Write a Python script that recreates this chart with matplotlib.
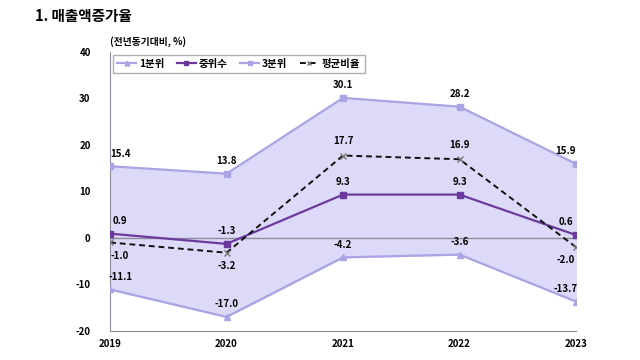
import numpy as np
import matplotlib.pyplot as plt

plt.rcParams['font.family'] = ['Noto Sans CJK KR', 'DejaVu Sans']
plt.rcParams['font.weight'] = 'bold'
plt.rcParams['axes.unicode_minus'] = False

years = ['2019', '2020', '2021', '2022', '2023']
q1 = [-11.1, -17.0, -4.2, -3.6, -13.7]
median = [0.9, -1.3, 9.3, 9.3, 0.6]
q3 = [15.4, 13.8, 30.1, 28.2, 15.9]
avg = [-1.0, -3.2, 17.7, 16.9, -2.0]

x = np.arange(len(years))

fig = plt.figure(figsize=(6.4, 3.6), dpi=100)
ax = fig.add_axes([0.172, 0.081, 0.728, 0.775])

ax.fill_between(x, q1, q3, color='#DCDAF8', zorder=1)
ax.axhline(0, color='#8C8C9C', lw=1, zorder=2)
ax.plot(x, q1, color='#A9A4E4', lw=1.6, marker='^', ms=5, label='1분위', zorder=3)
ax.plot(x, median, color='#6A3B9C', lw=1.6, marker='s', ms=5, label='중위수', zorder=4)
ax.plot(x, q3, color='#A9A4E4', lw=1.6, marker='s', ms=5, label='3분위', zorder=3)
ax.plot(x, avg, color='#111111', lw=1.4, ls=(0, (3, 2)), marker='x', ms=4,
        mec='#777777', label='평균비율', zorder=5)

dx = [0.12, 0, 0, 0, -0.12]
fs = 7
for i in range(len(x)):
    ax.annotate(f'{q3[i]:.1f}', (x[i], q3[i]), xytext=(dx[i] * 60, 7),
                textcoords='offset points', ha='center', fontsize=fs)
    ax.annotate(f'{median[i]:.1f}', (x[i], median[i]), xytext=(dx[i] * 60, 7),
                textcoords='offset points', ha='center', fontsize=fs)
    ax.annotate(f'{q1[i]:.1f}', (x[i], q1[i]), xytext=(dx[i] * 60, 7),
                textcoords='offset points', ha='center', fontsize=fs)
    if avg[i] > 5:
        off = 7
        va = 'bottom'
    else:
        off = -6
        va = 'top'
    ax.annotate(f'{avg[i]:.1f}', (x[i], avg[i]), xytext=(dx[i] * 60, off),
                textcoords='offset points', ha='center', va=va, fontsize=fs)

ax.set_xlim(0, 4)
ax.set_ylim(-20, 40)
ax.set_yticks([-20, -10, 0, 10, 20, 30, 40])
ax.set_xticks(x)
ax.set_xticklabels(years)
ax.tick_params(axis='both', labelsize=7, length=0)
ax.tick_params(axis='x', pad=6)
ax.tick_params(axis='y', pad=14)
for side in ['top', 'right']:
    ax.spines[side].set_visible(False)
for side in ['left', 'bottom']:
    ax.spines[side].set_color('#8C8C9C')

ax.legend(loc='upper left', ncol=4, fontsize=7.5, frameon=True, fancybox=False,
          edgecolor='#999999', handlelength=1.8, handletextpad=0.3,
          columnspacing=1.2, markerscale=0.7,
          bbox_to_anchor=(0.0, 1.0), borderaxespad=0.3)

fig.text(0.055, 0.955, '1. 매출액증가율', fontsize=10.5, fontweight='bold', va='center')
fig.text(0.172, 0.885, '(전년동기대비, %)', fontsize=7, fontweight='bold', va='center')

fig.savefig('out.png', dpi=100)
